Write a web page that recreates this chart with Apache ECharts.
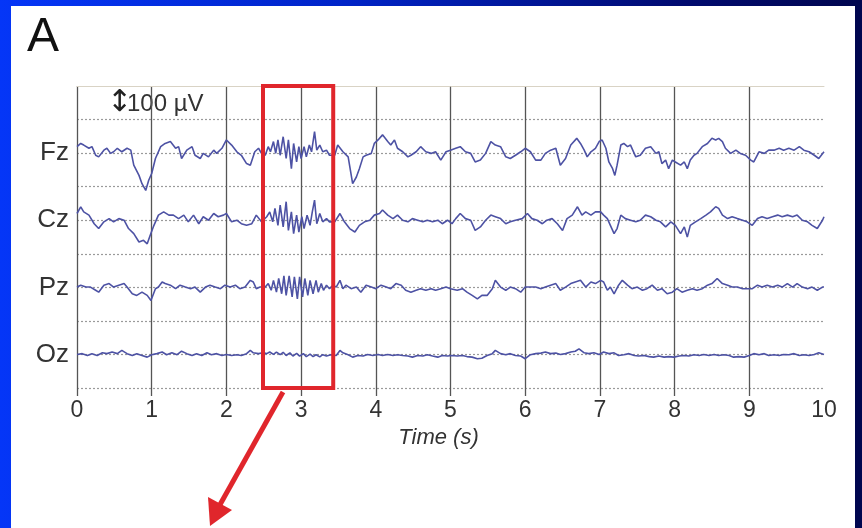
<!DOCTYPE html>
<html>
<head>
<meta charset="utf-8">
<script src="https://cdn.jsdelivr.net/npm/echarts@6/dist/echarts.min.js"></script>
<style>
  html, body { margin: 0; padding: 0; width: 862px; height: 528px; overflow: hidden;
    background: linear-gradient(to right, #0536f7 0%, #0024c8 40%, #000a6e 80%, #00064f 100%); }
  #panel { position: absolute; left: 11px; top: 6px; width: 844px; height: 522px; background: #ffffff; }
  #chart { position: absolute; left: 0; top: 0; width: 862px; height: 528px; }
</style>
</head>
<body>
<div id="panel"></div>
<div id="chart"></div>
<script>
// ---- data ----
const channels = ['Fz', 'Cz', 'Pz', 'Oz'];
const baselines = [7, 5, 3, 1];           // row (grid-line level) of each channel
const uvPerRow = 125;                      // µV per grid row (scale bar 100 µV)
const xTicks = [0, 1, 2, 3, 4, 5, 6, 7, 8, 9];
const boxRange = [2.49, 3.43];             // highlighted window (s)

// [time (s), amplitude (µV)]
const fz = [
[0,24],[0.05,36],[0.09,30],[0.16,18],[0.2,24],[0.25,-8],[0.29,-14],[0.36,11],[0.4,18],[0.45,-1],[0.49,5],[0.54,18],[0.6,5],[0.67,18],[0.72,11],[0.76,-45],[0.83,-83],[0.87,-114],[0.92,-139],[0.96,-101],[1,-76],[1.05,-20],[1.12,24],[1.18,36],[1.25,43],[1.32,18],[1.36,24],[1.4,-20],[1.47,11],[1.54,24],[1.58,-8],[1.65,-20],[1.69,-1],[1.76,-14],[1.83,11],[1.87,-1],[1.94,18],[2,49],[2.07,30],[2.14,5],[2.2,-8],[2.27,-39],[2.32,-45],[2.38,5],[2.43,18],[2.47,-1],
[2.52,-8],[2.56,24],[2.59,5],[2.63,43],[2.66,-1],[2.69,49],[2.72,-8],[2.76,61],[2.8,-20],[2.83,49],[2.87,-58],[2.9,36],[2.94,-33],[2.97,24],[3,-20],[3.04,24],[3.07,-14],[3.11,30],[3.14,5],[3.18,80],[3.21,11],[3.25,30],[3.29,5],[3.34,11],[3.38,-8],
[3.45,-8],[3.49,30],[3.56,5],[3.63,-14],[3.69,-114],[3.74,-89],[3.78,-58],[3.83,-14],[3.87,-8],[3.94,-1],[3.98,36],[4.03,49],[4.09,68],[4.16,43],[4.2,30],[4.25,49],[4.29,18],[4.36,5],[4.43,-14],[4.47,-8],[4.54,5],[4.6,24],[4.67,5],[4.74,-1],[4.8,5],[4.87,-26],[4.94,5],[5,11],
[5.07,18],[5.13,24],[5.2,5],[5.27,-1],[5.33,-33],[5.4,-26],[5.47,-1],[5.54,43],[5.6,30],[5.67,24],[5.74,-14],[5.8,-20],[5.87,-8],[5.94,5],[6,18],[6.07,5],[6.14,-26],[6.21,-26],[6.27,-1],[6.34,11],[6.41,18],[6.47,-45],[6.54,-20],[6.61,30],[6.69,55],[6.74,36],[6.79,11],[6.83,-14],[6.88,5],[6.94,18],[6.99,43],[7.03,49],[7.08,18],[7.12,-33],[7.17,-58],[7.2,-83],[7.23,-45],[7.28,30],[7.32,36],[7.37,24],[7.41,30],[7.48,-14],[7.54,-8],[7.61,18],[7.68,24],[7.75,-1],[7.79,5],[7.83,-39],[7.88,-26],[7.92,-58],[7.97,-26],[8.01,-33],[8.08,-45],[8.13,-33],[8.17,-58],[8.21,-26],[8.26,-8],[8.3,-1],[8.37,24],[8.44,36],[8.5,55],[8.55,49],[8.59,55],[8.64,43],[8.68,18],[8.75,-1],[8.82,11],[8.88,-1],[8.95,-8],[9.02,-26],[9.06,-33],[9.13,5],[9.2,-1],[9.26,11],[9.33,11],[9.4,18],[9.46,11],[9.53,18],[9.6,11],[9.67,24],[9.73,11],[9.8,5],[9.87,-8],[9.93,-20],[10,5]
];
const cz = [
[0,25],[0.05,50],[0.09,31],[0.16,19],[0.23,-13],[0.29,-31],[0.36,-6],[0.43,6],[0.49,-6],[0.56,6],[0.63,0],[0.69,-31],[0.76,-50],[0.83,-81],[0.89,-75],[0.94,-88],[0.98,-56],[1.03,-19],[1.09,19],[1.16,31],[1.23,19],[1.29,19],[1.36,6],[1.43,19],[1.49,-6],[1.56,19],[1.63,-13],[1.69,13],[1.76,0],[1.83,25],[1.89,13],[1.96,19],[2,25],[2.07,-6],[2.14,0],[2.2,-13],[2.27,-19],[2.34,-13],[2.4,19],[2.47,-6],
[2.54,13],[2.58,31],[2.62,-6],[2.65,44],[2.69,-19],[2.72,56],[2.76,-25],[2.8,69],[2.83,-38],[2.87,31],[2.9,-50],[2.94,19],[2.97,-44],[3.01,13],[3.04,-31],[3.08,19],[3.12,-19],[3.15,31],[3.18,75],[3.21,-13],[3.25,25],[3.29,-6],[3.34,6],[3.38,-6],
[3.45,-6],[3.52,25],[3.58,-6],[3.65,-31],[3.72,-44],[3.78,-19],[3.85,-6],[3.92,0],[3.98,19],[4.05,25],[4.09,38],[4.16,19],[4.23,6],[4.29,19],[4.36,0],[4.43,-6],[4.49,6],[4.56,0],[4.63,-6],[4.69,0],[4.76,-6],[4.83,0],[4.89,-13],[4.96,0],
[5.02,-13],[5.07,6],[5.13,25],[5.2,6],[5.27,0],[5.33,-38],[5.4,-25],[5.47,0],[5.54,19],[5.6,13],[5.67,6],[5.74,-13],[5.8,-6],[5.87,0],[5.96,6],[6.03,25],[6.09,6],[6.16,0],[6.23,-13],[6.29,0],[6.36,6],[6.43,-13],[6.5,-38],[6.56,6],[6.63,19],[6.7,50],[6.76,19],[6.81,31],[6.88,19],[6.94,31],[7.01,31],[7.05,19],[7.1,6],[7.14,-19],[7.19,-50],[7.23,-31],[7.28,19],[7.34,6],[7.41,0],[7.48,-6],[7.54,0],[7.61,19],[7.68,13],[7.75,0],[7.81,-6],[7.88,-25],[7.95,-6],[8.01,-19],[8.08,-50],[8.13,-25],[8.17,-63],[8.21,-19],[8.28,-6],[8.35,6],[8.42,19],[8.48,31],[8.55,50],[8.59,44],[8.64,19],[8.71,6],[8.77,13],[8.84,6],[8.91,0],[8.97,-6],[9.04,-19],[9.11,6],[9.17,13],[9.24,6],[9.31,13],[9.38,19],[9.44,13],[9.51,19],[9.58,13],[9.64,19],[9.71,0],[9.78,-6],[9.84,-19],[9.91,-31],[9.98,0],[10,13]
];
const pz = [
[0,1],[0.05,8],[0.12,1],[0.18,1],[0.25,-11],[0.29,-18],[0.36,8],[0.43,14],[0.49,1],[0.56,8],[0.63,14],[0.67,1],[0.74,-24],[0.8,-30],[0.87,-18],[0.94,-30],[0.99,-49],[1.05,-5],[1.09,1],[1.14,20],[1.18,14],[1.25,8],[1.32,-5],[1.38,8],[1.45,1],[1.52,-5],[1.58,1],[1.65,-18],[1.72,1],[1.78,8],[1.85,1],[1.92,-5],[1.98,8],[2.05,1],[2.12,8],[2.18,-5],[2.25,1],[2.32,26],[2.36,20],[2.4,-5],[2.45,1],
[2.52,1],[2.56,14],[2.6,-11],[2.63,26],[2.67,-18],[2.7,33],[2.74,-24],[2.77,43],[2.8,-30],[2.84,43],[2.88,-36],[2.91,39],[2.95,-43],[2.98,39],[3.02,-36],[3.05,33],[3.09,-30],[3.12,26],[3.16,-24],[3.2,26],[3.23,-18],[3.27,14],[3.3,-11],[3.34,8],[3.38,-5],[3.43,8],
[3.47,1],[3.52,26],[3.56,-5],[3.6,8],[3.67,-5],[3.74,1],[3.8,-18],[3.87,8],[3.94,1],[4,-5],[4.07,8],[4.14,1],[4.2,-5],[4.27,14],[4.34,8],[4.4,-11],[4.47,-18],[4.54,-11],[4.6,-5],[4.67,-11],[4.74,-5],[4.8,-11],[4.87,-5],[4.94,1],[5,-5],
[5.09,-11],[5.16,-5],[5.22,-18],[5.29,-30],[5.36,-43],[5.42,-30],[5.49,-30],[5.56,-5],[5.6,26],[5.67,1],[5.74,-11],[5.8,1],[5.87,-5],[5.94,-18],[6,1],[6.07,1],[6.14,1],[6.21,-5],[6.27,1],[6.34,8],[6.41,14],[6.47,-11],[6.54,1],[6.61,14],[6.67,20],[6.74,26],[6.81,1],[6.88,20],[6.94,14],[7.01,26],[7.05,20],[7.1,-11],[7.14,1],[7.19,-24],[7.25,8],[7.3,26],[7.37,8],[7.43,-5],[7.5,1],[7.57,-11],[7.63,-5],[7.7,8],[7.77,-11],[7.83,-5],[7.9,-24],[7.97,-18],[8.03,-5],[8.1,-18],[8.17,-11],[8.24,-5],[8.3,-11],[8.37,-5],[8.44,8],[8.5,14],[8.57,33],[8.64,14],[8.71,8],[8.77,1],[8.84,1],[8.91,-5],[8.97,-5],[9.04,-5],[9.11,8],[9.17,1],[9.24,8],[9.31,1],[9.38,8],[9.44,1],[9.51,14],[9.58,1],[9.64,14],[9.71,1],[9.78,-5],[9.84,1],[9.91,-11],[9.98,1],[10,1]
];
const oz = [
[0,0],[0.07,3],[0.14,-4],[0.2,3],[0.27,-4],[0.34,6],[0.4,3],[0.47,9],[0.54,3],[0.6,15],[0.67,3],[0.74,-4],[0.8,3],[0.87,-4],[0.94,-10],[1,-1],[1.07,3],[1.14,9],[1.2,-1],[1.27,6],[1.34,-1],[1.4,12],[1.47,3],[1.54,-4],[1.6,3],[1.67,-4],[1.74,6],[1.8,-1],[1.87,3],[1.94,-4],[2,0],[2.07,-4],[2.14,-1],[2.2,-4],[2.27,3],[2.32,15],[2.36,6],[2.43,3],[2.49,6],
[2.54,3],[2.58,9],[2.63,0],[2.67,9],[2.72,-1],[2.76,8],[2.8,-4],[2.85,6],[2.89,-6],[2.94,4],[2.98,-6],[3.03,3],[3.07,-8],[3.12,1],[3.16,-8],[3.2,-1],[3.25,-9],[3.29,-1],[3.34,-6],[3.4,-1],[3.47,-4],[3.52,15],[3.56,6],[3.63,-1],[3.69,-10],[3.76,-4],[3.83,-6],[3.89,0],[3.96,-4],[4.03,0],[4.09,-4],[4.16,0],[4.23,-4],[4.29,-1],[4.36,-4],[4.43,-6],[4.49,-10],[4.56,-4],[4.63,-6],[4.69,-1],[4.76,-6],[4.83,-10],[4.89,-4],[4.96,-6],
[5.02,-4],[5.09,-6],[5.16,-4],[5.22,-8],[5.29,-10],[5.36,-16],[5.42,-14],[5.49,-4],[5.56,3],[5.6,15],[5.67,3],[5.74,-1],[5.8,3],[5.87,-4],[5.94,-6],[6,-16],[6.07,-1],[6.14,3],[6.21,5],[6.27,9],[6.34,3],[6.41,5],[6.47,0],[6.54,3],[6.61,9],[6.67,12],[6.72,21],[6.79,6],[6.85,3],[6.92,6],[6.99,0],[7.05,9],[7.12,3],[7.19,6],[7.25,-4],[7.32,-1],[7.39,3],[7.46,-4],[7.52,-6],[7.59,-4],[7.66,-8],[7.72,-10],[7.79,-6],[7.86,-10],[7.92,-8],[7.99,-10],[8.06,-6],[8.13,-4],[8.19,-6],[8.26,-1],[8.33,-4],[8.39,0],[8.46,-4],[8.53,0],[8.59,-4],[8.66,-1],[8.73,-4],[8.79,-10],[8.86,-8],[8.93,-10],[9,-4],[9.06,3],[9.13,-1],[9.2,3],[9.26,-4],[9.33,-1],[9.4,-4],[9.46,0],[9.53,-1],[9.6,3],[9.67,-4],[9.73,-1],[9.8,-4],[9.87,0],[9.93,6],[10,0]
];
const traces = [fz, cz, pz, oz];

// ---- chart ----
const FONT = '"Liberation Sans", Arial, sans-serif';
const TEXT = '#333333';
const labelByRow = {};
channels.forEach((c, i) => { labelByRow[baselines[i]] = c; });

const series = traces.map((tr, i) => ({
  name: channels[i],
  type: 'line',
  showSymbol: false,
  silent: true,
  animation: false,
  clip: false,
  z: 3,
  lineStyle: { color: '#4d52a4', width: 1.6 },
  data: tr.map(p => [p[0], baselines[i] + p[1] / uvPerRow])
}));
// highlighted window
series[3].markArea = {
  silent: true,
  z: 5,
  itemStyle: { color: 'rgba(0,0,0,0)', borderColor: '#e0262c', borderWidth: 4 },
  data: [[{ xAxis: boxRange[0], yAxis: 9.18 }, { xAxis: boxRange[1], yAxis: -0.06 }]]
};

const chart = echarts.init(document.getElementById('chart'), null, { renderer: 'canvas' });
chart.setOption({
  backgroundColor: 'transparent',
  animation: false,
  grid: { left: 77, right: 38, top: 86, bottom: 140 },
  xAxis: [{
    type: 'value', min: 0, max: 10, interval: 1,
    axisLine: { show: false },
    axisTick: { show: true, length: 8, customValues: xTicks, lineStyle: { color: '#555', width: 1.3 } },
    axisLabel: { fontSize: 23, color: TEXT, margin: 11, fontFamily: FONT },
    splitLine: { show: true, showMinLine: true, showMaxLine: true, lineStyle: { color: '#555', width: 1.3 } },
    name: 'Time (s)', nameLocation: 'middle', nameGap: 37,
    nameTextStyle: { fontStyle: 'italic', fontSize: 22, color: TEXT, fontFamily: FONT, padding: [0, 24, 0, 0] }
  }, {
    type: 'value', position: 'top', min: 0, max: 10,
    axisLine: { show: true, lineStyle: { color: '#d9d3c5', width: 1 } },
    axisTick: { show: false }, axisLabel: { show: false }, splitLine: { show: false }
  }],
  yAxis: {
    type: 'value', min: 0, max: 9, interval: 1,
    axisLine: { show: false }, axisTick: { show: false },
    axisLabel: { formatter: v => labelByRow[v] || '', fontSize: 26, color: TEXT, margin: 8, fontFamily: FONT },
    splitLine: { show: true, showMaxLine: false, lineStyle: { color: '#9a9a9a', width: 1.2, type: [2, 2] } }
  },
  graphic: [
    { type: 'text', left: 27, top: 14, style: { text: 'A', font: '48px ' + FONT, fill: '#111' } },
    { type: 'text', left: 107, top: 88, style: { text: '↕', font: '30px "DejaVu Sans", sans-serif', fill: '#222' } },
    { type: 'text', left: 127, top: 92, style: { text: '100 µV', font: '24px ' + FONT, fill: TEXT } },
    { type: 'line', shape: { x1: 283, y1: 392, x2: 217, y2: 510 }, style: { stroke: '#e0262c', lineWidth: 5 } },
    { type: 'polygon', shape: { points: [[210, 526], [232, 510], [208, 497]] }, style: { fill: '#e0262c' } }
  ],
  series: series
});
</script>
</body>
</html>
